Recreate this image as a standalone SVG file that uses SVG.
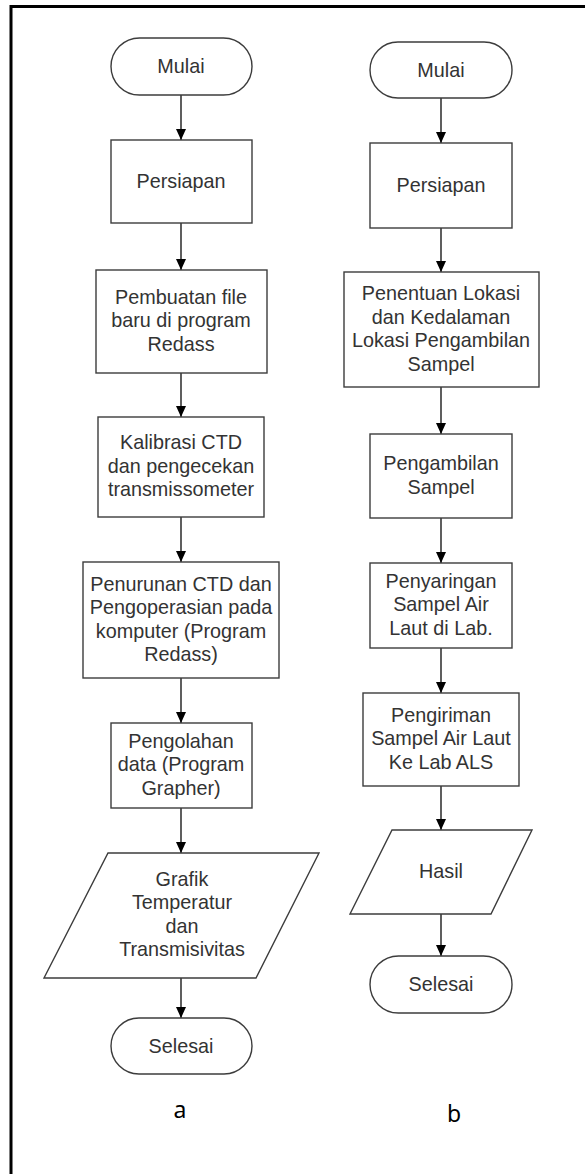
<svg xmlns="http://www.w3.org/2000/svg" width="585" height="1174" viewBox="0 0 585 1174">
<style>
.n{fill:#fff;stroke:#3c3c3c;stroke-width:1.4}
.t{font-family:"Liberation Sans",Arial,sans-serif;font-size:19.8px;fill:#333;text-anchor:middle}
.l{font-family:"Noto Sans","Open Sans",sans-serif;font-size:23px;fill:#000;text-anchor:middle}
.c{stroke:#1a1a1a;stroke-width:1.4;fill:none;marker-end:url(#ah)}
</style>
<defs>
<marker id="ah" viewBox="0 0 11 10" refX="11" refY="5" markerWidth="11" markerHeight="10" markerUnits="userSpaceOnUse" orient="auto">
<path d="M0,0 L11,5 L0,10 z" fill="#000"/>
</marker>
</defs>
<rect width="585" height="1174" fill="#fff"/>
<path d="M11,1174 V6.5 H585" fill="none" stroke="#000" stroke-width="3"/>

<g id="connectors">
<line class="c" x1="181" y1="95" x2="181" y2="140"/>
<line class="c" x1="181" y1="223" x2="181" y2="270"/>
<line class="c" x1="181" y1="373" x2="181" y2="417"/>
<line class="c" x1="181" y1="517" x2="181" y2="562"/>
<line class="c" x1="181" y1="678" x2="181" y2="723"/>
<line class="c" x1="181" y1="808" x2="181" y2="853"/>
<line class="c" x1="181" y1="978" x2="181" y2="1018"/>
<line class="c" x1="441" y1="98" x2="441" y2="143"/>
<line class="c" x1="441" y1="228" x2="441" y2="272"/>
<line class="c" x1="441" y1="387" x2="441" y2="434"/>
<line class="c" x1="441" y1="518" x2="441" y2="563"/>
<line class="c" x1="441" y1="648" x2="441" y2="693"/>
<line class="c" x1="441" y1="786" x2="441" y2="830"/>
<line class="c" x1="441" y1="914" x2="441" y2="956"/>
</g>

<g id="a-mulai"><rect class="n" x="111" y="38" width="141" height="57" rx="28.5"/><text class="t" x="181" y="73">Mulai</text></g>
<g id="a-persiapan"><rect class="n" x="111" y="140" width="141" height="83"/><text class="t" x="181" y="188">Persiapan</text></g>
<g id="a-pembuatan"><rect class="n" x="96" y="270" width="171" height="103"/><text class="t" x="181"><tspan x="181" y="303.5">Pembuatan file</tspan><tspan x="181" y="327">baru di program</tspan><tspan x="181" y="350.5">Redass</tspan></text></g>
<g id="a-kalibrasi"><rect class="n" x="98" y="417" width="166" height="100"/><text class="t"><tspan x="181" y="449">Kalibrasi CTD</tspan><tspan x="181" y="472.5">dan pengecekan</tspan><tspan x="181" y="496">transmissometer</tspan></text></g>
<g id="a-penurunan"><rect class="n" x="83" y="562" width="196" height="116"/><text class="t"><tspan x="181" y="590.5">Penurunan CTD dan</tspan><tspan x="181" y="614">Pengoperasian pada</tspan><tspan x="181" y="637.5">komputer (Program</tspan><tspan x="181" y="661">Redass)</tspan></text></g>
<g id="a-pengolahan"><rect class="n" x="111" y="723" width="141" height="85"/><text class="t"><tspan x="181" y="747.5">Pengolahan</tspan><tspan x="181" y="771">data (Program</tspan><tspan x="181" y="794.5">Grapher)</tspan></text></g>
<g id="a-grafik"><polygon class="n" points="108,853 319,853 256,978 44,978"/><text class="t"><tspan x="182" y="885.5">Grafik</tspan><tspan x="182" y="909">Temperatur</tspan><tspan x="182" y="932.5">dan</tspan><tspan x="182" y="956">Transmisivitas</tspan></text></g>
<g id="a-selesai"><rect class="n" x="111" y="1018" width="141" height="56" rx="28"/><text class="t" x="181" y="1052.5">Selesai</text></g>
<g id="label-a"><text class="l" x="180" y="1118">a</text></g>

<g id="b-mulai"><rect class="n" x="370" y="42" width="142" height="56" rx="28"/><text class="t" x="441" y="76.5">Mulai</text></g>
<g id="b-persiapan"><rect class="n" x="370" y="143" width="142" height="85"/><text class="t" x="441" y="191.5">Persiapan</text></g>
<g id="b-penentuan"><rect class="n" x="344" y="272" width="195" height="115"/><text class="t"><tspan x="441" y="300">Penentuan Lokasi</tspan><tspan x="441" y="323.5">dan Kedalaman</tspan><tspan x="441" y="347">Lokasi Pengambilan</tspan><tspan x="441" y="370.5">Sampel</tspan></text></g>
<g id="b-pengambilan"><rect class="n" x="370" y="434" width="142" height="84"/><text class="t"><tspan x="441" y="470">Pengambilan</tspan><tspan x="441" y="493.5">Sampel</tspan></text></g>
<g id="b-penyaringan"><rect class="n" x="370" y="563" width="142" height="85"/><text class="t"><tspan x="441" y="587.5">Penyaringan</tspan><tspan x="441" y="611">Sampel Air</tspan><tspan x="441" y="634.5">Laut di Lab.</tspan></text></g>
<g id="b-pengiriman"><rect class="n" x="363" y="693" width="156" height="93"/><text class="t"><tspan x="441" y="721.5">Pengiriman</tspan><tspan x="441" y="745">Sampel Air Laut</tspan><tspan x="441" y="768.5">Ke Lab ALS</tspan></text></g>
<g id="b-hasil"><polygon class="n" points="392,830 532,830 491,914 350,914"/><text class="t" x="441" y="878">Hasil</text></g>
<g id="b-selesai"><rect class="n" x="370" y="956" width="142" height="57" rx="28.5"/><text class="t" x="441" y="991">Selesai</text></g>
<g id="label-b"><text class="l" x="454" y="1122">b</text></g>
</svg>
